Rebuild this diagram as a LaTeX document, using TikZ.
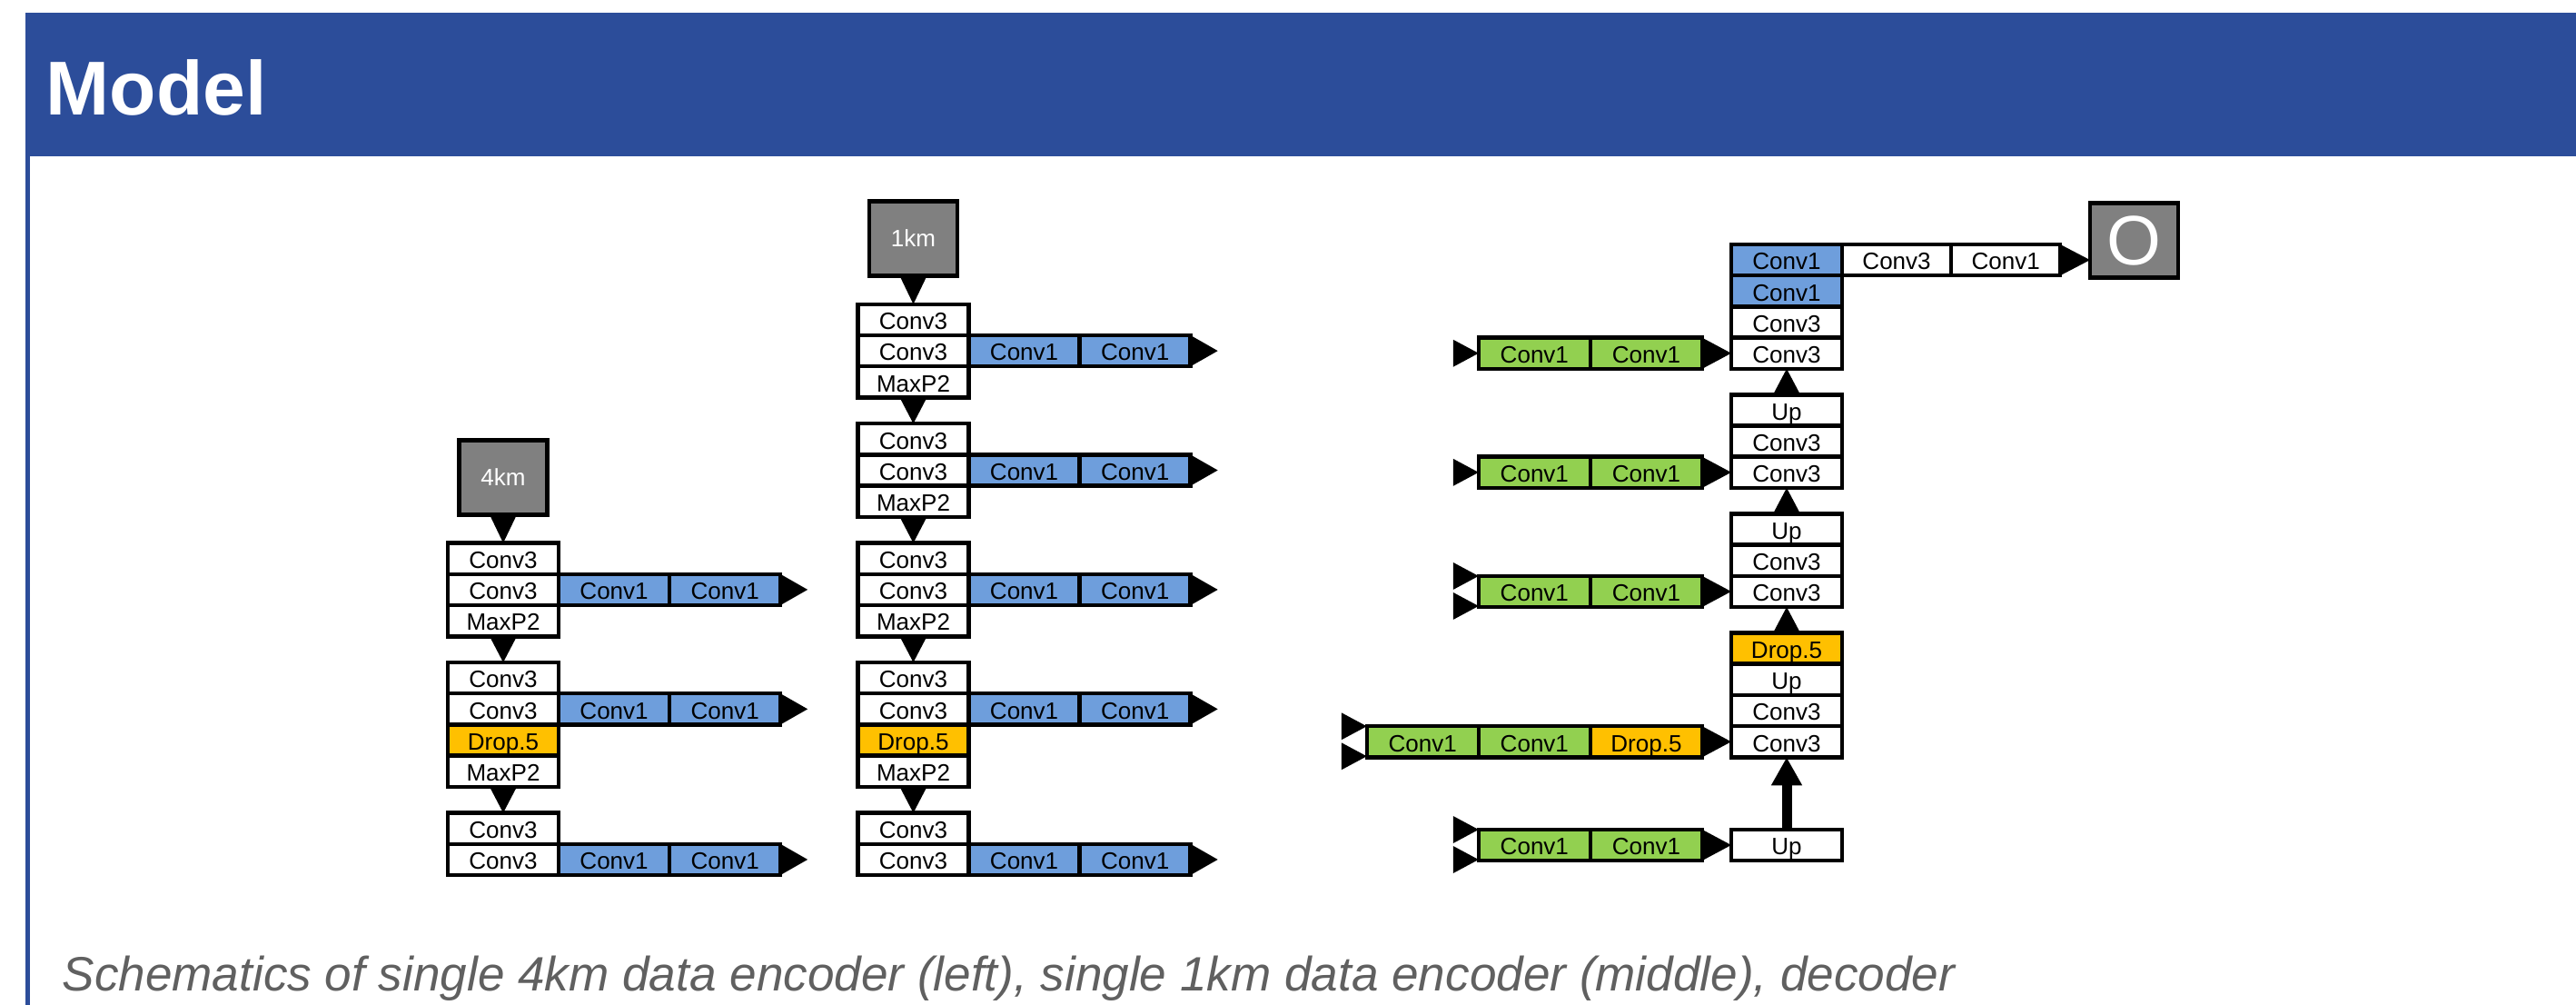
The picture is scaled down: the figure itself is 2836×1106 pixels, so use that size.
\documentclass[tikz,border=0pt]{standalone}
\usepackage{fontspec}
\setmainfont{Liberation Sans}
\usetikzlibrary{positioning,calc,arrows.meta}
\definecolor{headblue}{RGB}{44,77,154}
\definecolor{convblue}{RGB}{110,158,220}
\definecolor{convgreen}{RGB}{146,208,80}
\definecolor{dropor}{RGB}{255,192,0}
\definecolor{boxgray}{RGB}{128,128,128}
\definecolor{capgray}{RGB}{96,96,96}
\tikzset{
  cellbase/.style={draw=black, line width=0.045cm, rectangle, inner sep=0pt, outer sep=0pt,
    minimum width=1.22cm, minimum height=0.342cm, text height=0.22cm, text depth=0.004cm,
    font=\fontsize{7.4pt}{8pt}\selectfont, text=black},
  wcell/.style={cellbase, fill=white},
  bcell/.style={cellbase, fill=convblue},
  gcell/.style={cellbase, fill=convgreen, minimum width=1.23cm},
  ocell/.style={cellbase, fill=dropor},
  databox/.style={draw=black, line width=0.045cm, fill=boxgray, inner sep=0pt, outer sep=0pt,
    minimum width=0.97cm, minimum height=0.82cm, text=white, font=\fontsize{7.4pt}{8pt}\selectfont},
  conn/.style={fill=black},
}
\newcommand\dntri[2]{\fill[conn] ($(#1.south)+(-15,0)$) -- ($(#1.south)+(15,0)$) -- (#2.north) -- cycle;}
\newcommand\uptri[2]{\fill[conn] ($(#1.north)+(-15,0)$) -- ($(#1.north)+(15,0)$) -- (#2.south) -- cycle;}
\newcommand\rtri[2]{\fill[conn] (#1.north east) -- (#1.south east) -- (#1.east -| #2.west) -- cycle;}
\newcommand\outtri[1]{\fill[conn] (#1.north east) -- (#1.south east) -- ($(#1.east)+(30,0)$) -- cycle;}
\newcommand\intri[4]{\fill[conn] ($(#1.west)+(-28,#3)$) -- ($(#1.west)+(-28,#4)$) -- ($(#1.west)+(0,#2)$) -- cycle;}
\begin{document}
\begin{tikzpicture}[x=0.01cm,y=-0.01cm]
\useasboundingbox (0,0) rectangle (2836,1106);
\fill[white] (0,0) rectangle (2836,1106);
% header
\fill[headblue] (28,14) rectangle (2836,172);
\fill[headblue] (28,172) rectangle (33,1106);
\node[anchor=base west, inner sep=0pt, text=white, font=\fontsize{23.9pt}{26pt}\selectfont\bfseries] (title) at (50,126) {Model};
% caption
\node[anchor=base west, inner sep=0pt, text=capgray, font=\fontsize{15.1pt}{17pt}\selectfont\itshape] (cap) at (68,1090) {Schematics of single 4km data encoder (left), single 1km data encoder (middle), decoder};

% ---------- 4km encoder ----------
\node[databox] (k4) at (554,525.3) {4km};
\node[wcell] (a1) at (554,614.7) {Conv3};
\node[wcell,below=0cm of a1] (a2) {Conv3};
\node[wcell,below=0cm of a2] (a3) {MaxP2};
\node[bcell,right=0cm of a2] (a2p) {Conv1};
\node[bcell,right=0cm of a2p] (a2q) {Conv1};
\node[wcell] (a4) at (554,746.1) {Conv3};
\node[wcell,below=0cm of a4] (a5) {Conv3};
\node[ocell,below=0cm of a5] (a6) {Drop.5};
\node[wcell,below=0cm of a6] (a7) {MaxP2};
\node[bcell,right=0cm of a5] (a5p) {Conv1};
\node[bcell,right=0cm of a5p] (a5q) {Conv1};
\node[wcell] (a8) at (554,911.7) {Conv3};
\node[wcell,below=0cm of a8] (a9) {Conv3};
\node[bcell,right=0cm of a9] (a9p) {Conv1};
\node[bcell,right=0cm of a9p] (a9q) {Conv1};
\dntri{k4}{a1}
\dntri{a3}{a4}
\dntri{a7}{a8}
\outtri{a2q}
\outtri{a5q}
\outtri{a9q}

% ---------- 1km encoder ----------
\node[databox] (k1) at (1005.5,262.5) {1km};
\node[wcell] (b1) at (1005.5,351.9) {Conv3};
\node[wcell,below=0cm of b1] (b2) {Conv3};
\node[wcell,below=0cm of b2] (b3) {MaxP2};
\node[bcell,right=0cm of b2] (b2p) {Conv1};
\node[bcell,right=0cm of b2p] (b2q) {Conv1};
\node[wcell] (b4) at (1005.5,483.3) {Conv3};
\node[wcell,below=0cm of b4] (b5) {Conv3};
\node[wcell,below=0cm of b5] (b6) {MaxP2};
\node[bcell,right=0cm of b5] (b5p) {Conv1};
\node[bcell,right=0cm of b5p] (b5q) {Conv1};
\node[wcell] (b7) at (1005.5,614.7) {Conv3};
\node[wcell,below=0cm of b7] (b8) {Conv3};
\node[wcell,below=0cm of b8] (b9) {MaxP2};
\node[bcell,right=0cm of b8] (b8p) {Conv1};
\node[bcell,right=0cm of b8p] (b8q) {Conv1};
\node[wcell] (b10) at (1005.5,746.1) {Conv3};
\node[wcell,below=0cm of b10] (b11) {Conv3};
\node[ocell,below=0cm of b11] (b12) {Drop.5};
\node[wcell,below=0cm of b12] (b13) {MaxP2};
\node[bcell,right=0cm of b11] (b11p) {Conv1};
\node[bcell,right=0cm of b11p] (b11q) {Conv1};
\node[wcell] (b14) at (1005.5,911.7) {Conv3};
\node[wcell,below=0cm of b14] (b15) {Conv3};
\node[bcell,right=0cm of b15] (b15p) {Conv1};
\node[bcell,right=0cm of b15p] (b15q) {Conv1};
\dntri{k1}{b1}
\dntri{b3}{b4}
\dntri{b6}{b7}
\dntri{b9}{b10}
\dntri{b13}{b14}
\outtri{b2q}
\outtri{b5q}
\outtri{b8q}
\outtri{b11q}
\outtri{b15q}

% ---------- decoder ----------
\node[bcell] (d1) at (1967,286.1) {Conv1};
\node[bcell,below=0cm of d1] (d2) {Conv1};
\node[wcell,below=0cm of d2] (d3) {Conv3};
\node[wcell,below=0cm of d3] (d4) {Conv3};
\node[wcell] (d5) at (1967,451.4) {Up};
\node[wcell,below=0cm of d5] (d6) {Conv3};
\node[wcell,below=0cm of d6] (d7) {Conv3};
\node[wcell] (d8) at (1967,582.5) {Up};
\node[wcell,below=0cm of d8] (d9) {Conv3};
\node[wcell,below=0cm of d9] (d10) {Conv3};
\node[ocell] (d11) at (1967,713.6) {Drop.5};
\node[wcell,below=0cm of d11] (d12) {Up};
\node[wcell,below=0cm of d12] (d13) {Conv3};
\node[wcell,below=0cm of d13] (d14) {Conv3};
\node[wcell] (d15) at (1967,930) {Up};
\uptri{d5}{d4}
\uptri{d8}{d7}
\uptri{d11}{d10}
\draw[line width=0.11cm, -{Triangle[length=0.31cm,width=0.32cm]}] (d15) -- (d14);

% output row
\node[wcell,minimum width=1.2cm,right=0cm of d1] (t1) {Conv3};
\node[wcell,minimum width=1.2cm,right=0cm of t1] (t2) {Conv1};
\node[databox, font=\fontsize{21.9pt}{24pt}\selectfont] (out) at (2349.5,264.5) {O};
\rtri{t2}{out}

% skip rows
\node[gcell,left=0.32cm of d4] (s1b) {Conv1};
\node[gcell,left=0cm of s1b] (s1a) {Conv1};
\rtri{s1b}{d4}
\intri{s1a}{0}{-15}{15}

\node[gcell,left=0.32cm of d7] (s2b) {Conv1};
\node[gcell,left=0cm of s2b] (s2a) {Conv1};
\rtri{s2b}{d7}
\intri{s2a}{0}{-15}{15}

\node[gcell,left=0.32cm of d10] (s3b) {Conv1};
\node[gcell,left=0cm of s3b] (s3a) {Conv1};
\rtri{s3b}{d10}
\intri{s3a}{-17}{-32}{-2}
\intri{s3a}{16}{1}{31}

\node[ocell,minimum width=1.23cm,left=0.32cm of d14] (s4c) {Drop.5};
\node[gcell,left=0cm of s4c] (s4b) {Conv1};
\node[gcell,left=0cm of s4b] (s4a) {Conv1};
\rtri{s4c}{d14}
\intri{s4a}{-17}{-32}{-2}
\intri{s4a}{16}{1}{31}

\node[gcell,left=0.32cm of d15] (s5b) {Conv1};
\node[gcell,left=0cm of s5b] (s5a) {Conv1};
\rtri{s5b}{d15}
\intri{s5a}{-17}{-32}{-2}
\intri{s5a}{16}{1}{31}
\end{tikzpicture}
\end{document}
